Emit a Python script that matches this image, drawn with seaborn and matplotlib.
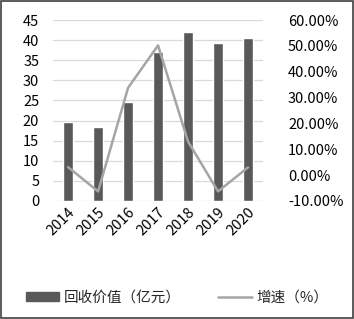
import matplotlib
matplotlib.use("Agg")
import matplotlib.pyplot as plt
import seaborn as sns
import numpy as np
import pandas as pd
from matplotlib.patches import Rectangle
from matplotlib.lines import Line2D

years = ["2014", "2015", "2016", "2017", "2018", "2019", "2020"]
value = [19.7, 18.5, 24.7, 37.1, 42.0, 39.4, 40.6]
growth = [3.1, -6.3, 33.8, 50.2, 13.0, -6.3, 3.0]
left_ticks = [0, 5, 10, 15, 20, 25, 30, 35, 40, 45]
right_ticks = [-10, 0, 10, 20, 30, 40, 50, 60]
bar_label = "回收价值（亿元）"
line_label = "增速（%）"

sns.set_theme(style="white")
plt.rcParams['font.family'] = ['Noto Sans CJK SC', 'DejaVu Sans']

df = pd.DataFrame({"year": years, "value": value, "growth": growth})
df["pos"] = np.arange(len(years))

fig = plt.figure(figsize=(3.54, 3.19), dpi=100)
ax = fig.add_axes([0.150, 0.370, 0.593, 0.567])
bar_c = "#595959"
line_c = "#A5A5A5"
grid_c = "#D9D9D9"

sns.barplot(data=df, x="year", y="value", color=bar_c, width=0.32,
            saturation=1, ax=ax, zorder=3)
ax.set_ylim(0, 45)
ax.set_yticks(left_ticks)
ax.set_xlim(-0.5, len(years) - 0.5)
ax.grid(axis="y", color=grid_c, linewidth=0.9, zorder=0)
ax.set_axisbelow(True)
for s in ax.spines.values():
    s.set_visible(False)
ax.set_xlabel("")
ax.set_ylabel("")
ax.tick_params(axis="y", length=0, labelsize=10.5, pad=10, colors="black")
ax.tick_params(axis="x", length=0, labelsize=10.5, pad=3, colors="black")
for lab in ax.get_xticklabels():
    lab.set_rotation(45)
    lab.set_ha("right")
    lab.set_rotation_mode("anchor")

ax2 = ax.twinx()
sns.lineplot(data=df, x="pos", y="growth", color=line_c, linewidth=1.8, ax=ax2)
ax2.set_ylim(-10, 60)
ax2.set_yticks(right_ticks)
ax2.set_yticklabels([f"{t:.2f}%" for t in right_ticks])
ax2.set_ylabel("")
ax2.set_xlabel("")
for s in ax2.spines.values():
    s.set_visible(False)
ax2.tick_params(axis="y", length=0, labelsize=10.5, pad=18, colors="black")
ax.set_xlim(-0.5, len(years) - 0.5)

handles = [Rectangle((0, 0), 1, 1, color=bar_c),
           Line2D([0], [0], color=line_c, linewidth=1.8)]
fig.legend(handles, [bar_label, line_label], loc="center",
           bbox_to_anchor=(0.5, 0.068), ncol=2, frameon=False,
           fontsize=10.5, handlelength=2.3, handleheight=0.55,
           columnspacing=2.6, handletextpad=0.3)

fig.add_artist(Rectangle((0.004, 0.004), 0.992, 0.992, transform=fig.transFigure,
                         fill=False, edgecolor="#404040", linewidth=1.2))
fig.savefig("out.png", dpi=100)
